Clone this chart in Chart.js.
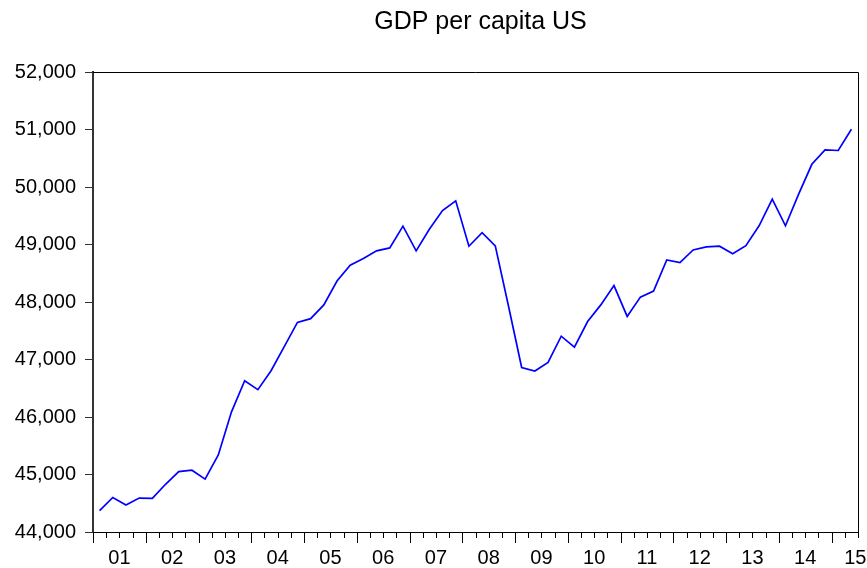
<!DOCTYPE html>
<html>
<head>
<meta charset="utf-8">
<title>GDP per capita US</title>
<script src="https://cdn.jsdelivr.net/npm/chart.js@4.4.1/dist/chart.umd.min.js"></script>
<style>
  html, body { margin: 0; padding: 0; background: #fff; }
  #wrap { width: 867px; height: 568px; }
</style>
</head>
<body>
<div id="wrap"><canvas id="gdpChart"></canvas></div>
<script>
const chartTitle = 'GDP per capita US';

// year labels on the x axis (2001 .. 2015)
const yearLabels = ['01', '02', '03', '04', '05', '06', '07', '08', '09', '10', '11', '12', '13', '14', '15'];

// quarterly values, 2001Q1 .. 2015Q2
const gdpPerCapita = [
    44370, 44600, 44470, 44590,
    44585, 44830, 45050, 45075,
    44920, 45340, 46090, 46630,
    46475, 46805, 47225, 47645,
    47710, 47950, 48365, 48640,
    48755, 48890, 48940, 49320,
    48890, 49265, 49590, 49760,
    48970, 49205, 48975, 47930,
    46860, 46800, 46950, 47405,
    47215, 47660, 47950, 48285,
    47750, 48085, 48190, 48730,
    48685, 48905, 48960, 48970,
    48840, 48980, 49325, 49790,
    49325, 49875, 50395, 50645,
    50635, 51005
];

const yTicks = [44000, 45000, 46000, 47000, 48000, 49000, 50000, 51000, 52000];

const nQuarters = gdpPerCapita.length;
const fontFamily = '"Liberation Sans", Arial, Helvetica, sans-serif';

// label position: middle of each year, last (partial) year near the end
const yearTickValues = yearLabels.map(function(l, i) {
    return Math.min(i * 4 + 2, nQuarters - 0.2);
});

const framePlugin = {
    id: 'frame',
    afterDraw(chart) {
        const ctx = chart.ctx;
        const a = chart.chartArea;
        const xs = chart.scales.x;
        ctx.save();
        ctx.strokeStyle = '#000';
        ctx.lineWidth = 1;
        ctx.beginPath();
        ctx.moveTo(a.left, a.top + 0.5);
        ctx.lineTo(a.right + 0.5, a.top + 0.5);
        ctx.lineTo(a.right + 0.5, a.bottom);
        // quarter tick marks, longer at each year start
        for (let q = 0; q <= nQuarters; q++) {
            const px = Math.round(xs.getPixelForValue(q)) + 0.5;
            const len = q % 4 === 0 ? 11 : 6;
            ctx.moveTo(px, a.bottom);
            ctx.lineTo(px, a.bottom + len);
        }
        ctx.stroke();

        ctx.font = '25px ' + fontFamily;
        ctx.fillStyle = '#000';
        ctx.textAlign = 'center';
        ctx.textBaseline = 'alphabetic';
        ctx.fillText(chartTitle, (a.left + a.right) / 2 + 5, 29);
        ctx.restore();
    }
};

const gdpData = {
    datasets: [{
        label: chartTitle,
        data: gdpPerCapita.map(function(v, i) { return { x: i + 0.5, y: v }; }),
        borderColor: '#0000ff',
        borderWidth: 1.7,
        fill: false,
        tension: 0,
        pointRadius: 0
    }]
};

const gdpConfig = {
    type: 'line',
    data: gdpData,
    options: {
        responsive: true,
        maintainAspectRatio: false,
        animation: false,
        layout: {
            padding: { top: 72, right: 9, left: 0, bottom: 0 }
        },
        scales: {
            x: {
                type: 'linear',
                min: 0,
                max: nQuarters,
                afterBuildTicks: function(scale) {
                    scale.ticks = yearTickValues.map(function(v) { return { value: v }; });
                },
                afterFit: function(scale) {
                    scale.height = 36;
                    scale.paddingLeft = 0;
                    scale.paddingRight = 0;
                },
                grid: { display: false, drawTicks: false },
                border: { display: true, color: '#000', width: 1 },
                ticks: {
                    autoSkip: false,
                    maxRotation: 0,
                    padding: 14,
                    color: '#000',
                    font: { family: fontFamily, size: 20 },
                    callback: function(value, index) {
                        return yearLabels[index];
                    }
                }
            },
            y: {
                min: yTicks[0],
                max: yTicks[yTicks.length - 1],
                afterBuildTicks: function(scale) {
                    scale.ticks = yTicks.map(function(v) { return { value: v }; });
                },
                afterFit: function(scale) {
                    scale.width = 93;
                    scale.paddingTop = 0;
                    scale.paddingBottom = 0;
                },
                grid: {
                    display: true,
                    drawOnChartArea: false,
                    tickLength: 8,
                    tickColor: '#333',
                    tickWidth: 1
                },
                border: { display: true, color: '#333', width: 2 },
                ticks: {
                    padding: 9,
                    color: '#000',
                    font: { family: fontFamily, size: 20 },
                    callback: function(value) {
                        return value.toLocaleString('en-US');
                    }
                }
            }
        },
        plugins: {
            legend: { display: false },
            title: { display: false },
            tooltip: { enabled: false }
        }
    },
    plugins: [framePlugin]
};

const gdpChart = new Chart(
    document.getElementById('gdpChart'),
    gdpConfig
);
</script>
</body>
</html>
